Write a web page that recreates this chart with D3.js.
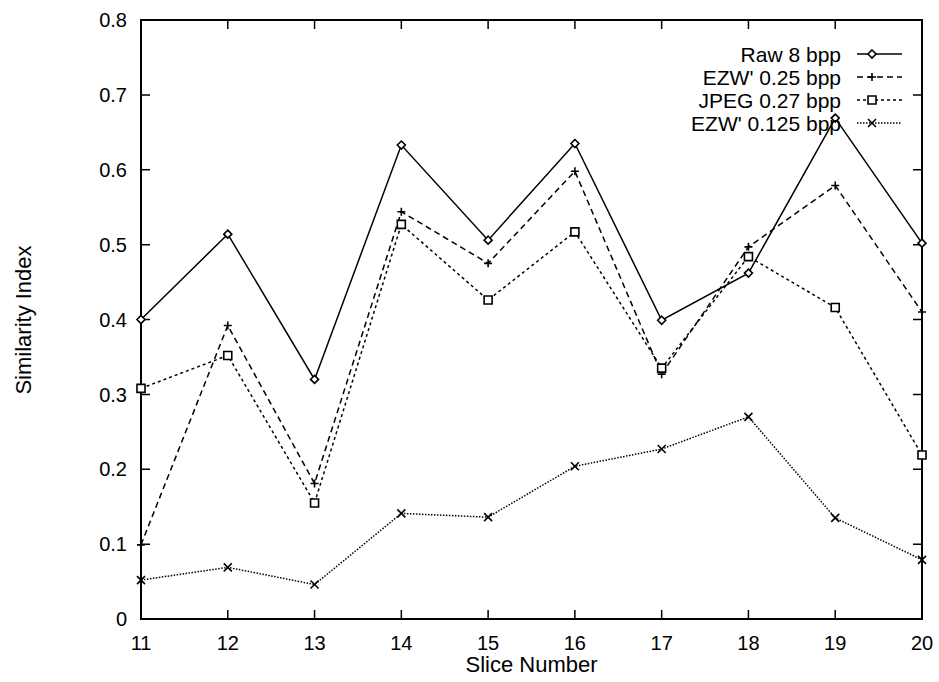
<!DOCTYPE html>
<html>
<head>
<meta charset="utf-8">
<script src="https://cdn.jsdelivr.net/npm/d3@7"></script>
<style>
  body { margin: 0; background: #fff; }
  text { font-family: "Liberation Sans", Arial, sans-serif; fill: #000; }
</style>
</head>
<body>
<div id="chart"></div>
<script>
// slices on the x axis
var slices = [11, 12, 13, 14, 15, 16, 17, 18, 19, 20];
var yTicks = [0, 0.1, 0.2, 0.3, 0.4, 0.5, 0.6, 0.7, 0.8];

// similarity values
var raw8 = [0.400, 0.514, 0.320, 0.633, 0.506, 0.635, 0.399, 0.462, 0.669, 0.502];
var ezw025 = [0.099, 0.392, 0.181, 0.544, 0.475, 0.598, 0.327, 0.497, 0.579, 0.410];
var jpeg027 = [0.308, 0.352, 0.155, 0.527, 0.426, 0.517, 0.335, 0.484, 0.416, 0.219];
var ezw0125 = [0.052, 0.069, 0.046, 0.141, 0.136, 0.204, 0.227, 0.270, 0.135, 0.079];

var seriesNames = ["Raw 8 bpp", "EZW' 0.25 bpp", "JPEG 0.27 bpp", "EZW' 0.125 bpp"];
var seriesValues = [raw8, ezw025, jpeg027, ezw0125];
var dashes = [null, "6,4", "3,3", "1.5,1.5"];
var markers = ["diamond", "plus", "square", "cross"];

var W = 939, H = 682;
var margin = { top: 20, right: 17, bottom: 63, left: 141 };
var width = W - margin.left - margin.right,
    height = H - margin.top - margin.bottom;

var svg = d3.select("#chart").append("svg")
    .attr("width", W).attr("height", H);

var g = svg.append("g")
    .attr("transform", "translate(" + margin.left + "," + margin.top + ")");

var x = d3.scaleLinear().domain([11, 20]).range([0, width]);
var y = d3.scaleLinear().domain([0, 0.8]).range([height, 0]);

// frame
g.append("rect")
    .attr("width", width).attr("height", height)
    .attr("fill", "none").attr("stroke", "#000").attr("stroke-width", 2);

// ticks, gnuplot style: inward, mirrored
var tickLen = 9;
g.selectAll(".xt").data(slices).enter().append("path")
    .attr("d", function(d) {
        return "M" + x(d) + "," + height + "v" + (-tickLen) +
               "M" + x(d) + ",0v" + tickLen;
    })
    .attr("stroke", "#000").attr("stroke-width", 1.5);
g.selectAll(".yt").data(yTicks).enter().append("path")
    .attr("d", function(d) {
        return "M0," + y(d) + "h" + tickLen +
               "M" + width + "," + y(d) + "h" + (-tickLen);
    })
    .attr("stroke", "#000").attr("stroke-width", 1.5);

// tick labels
g.selectAll(".xl").data(slices).enter().append("text")
    .attr("x", function(d) { return x(d); })
    .attr("y", height + 31)
    .attr("text-anchor", "middle")
    .style("font-size", "20px")
    .text(function(d) { return d; });
g.selectAll(".yl").data(yTicks).enter().append("text")
    .attr("x", -14)
    .attr("y", function(d) { return y(d); })
    .attr("dy", "0.36em")
    .attr("text-anchor", "end")
    .style("font-size", "20px")
    .text(function(d) { return d === 0 ? "0" : d3.format(".1f")(d); });

// axis titles
svg.append("text")
    .attr("x", margin.left + width / 2).attr("y", 672)
    .attr("text-anchor", "middle")
    .style("font-size", "22px")
    .text("Slice Number");
svg.append("text")
    .attr("transform", "translate(31,320) rotate(-90)")
    .attr("text-anchor", "middle")
    .style("font-size", "22px")
    .text("Similarity Index");

function drawMarker(sel, type, cx, cy) {
    var s = 4;
    var p;
    if (type === "diamond") {
        p = "M" + cx + "," + (cy - s) + "L" + (cx + s) + "," + cy + "L" + cx + "," + (cy + s) + "L" + (cx - s) + "," + cy + "Z";
    } else if (type === "plus") {
        p = "M" + (cx - s) + "," + cy + "h" + 2 * s + "M" + cx + "," + (cy - s) + "v" + 2 * s;
    } else if (type === "square") {
        p = "M" + (cx - s) + "," + (cy - s) + "h" + 2 * s + "v" + 2 * s + "h" + (-2 * s) + "Z";
    } else {
        p = "M" + (cx - s) + "," + (cy - s) + "l" + 2 * s + "," + 2 * s + "M" + (cx + s) + "," + (cy - s) + "l" + (-2 * s) + "," + 2 * s;
    }
    sel.append("path").attr("d", p)
        .attr("fill", type === "diamond" || type === "square" ? "#fff" : "none")
        .attr("stroke", "#000").attr("stroke-width", 1.6);
}

var line = d3.line()
    .x(function(d, i) { return x(slices[i]); })
    .y(function(d) { return y(d); });

seriesValues.forEach(function(vals, k) {
    g.append("path")
        .datum(vals)
        .attr("d", line)
        .attr("fill", "none")
        .attr("stroke", "#000")
        .attr("stroke-width", 1.5)
        .attr("stroke-dasharray", dashes[k]);
    var mg = g.append("g");
    vals.forEach(function(v, i) {
        drawMarker(mg, markers[k], x(slices[i]), y(v));
    });
});

// legend
var legend = svg.append("g");
seriesNames.forEach(function(name, k) {
    var ly = 54 + k * 23;
    legend.append("text")
        .attr("x", 841).attr("y", ly)
        .attr("dy", "0.36em")
        .attr("text-anchor", "end")
        .style("font-size", "21px")
        .text(name);
    legend.append("line")
        .attr("x1", 857).attr("x2", 902)
        .attr("y1", ly).attr("y2", ly)
        .attr("stroke", "#000").attr("stroke-width", 1.5)
        .attr("stroke-dasharray", dashes[k]);
    drawMarker(legend, markers[k], 872, ly);
});
</script>
</body>
</html>
